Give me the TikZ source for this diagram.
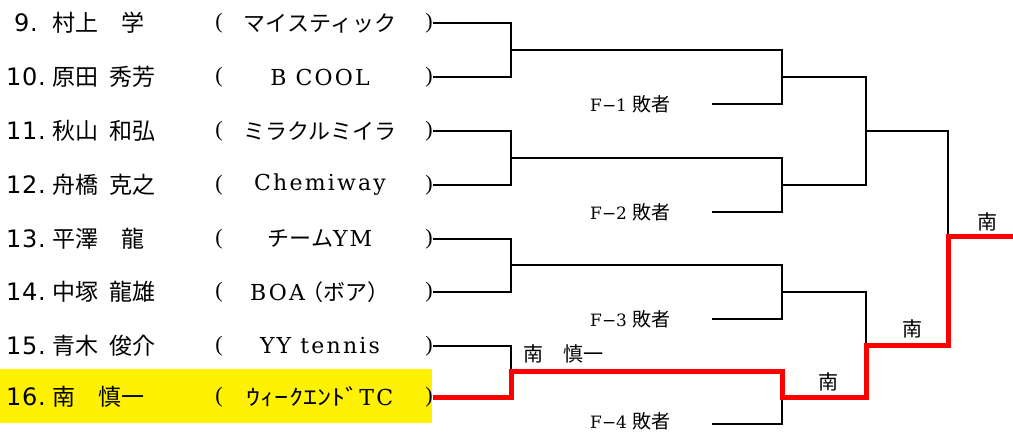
\documentclass[tikz,border=0pt]{standalone}
\usepackage{graphicx}
\usepackage{fontspec}
\setmainfont{Liberation Serif}
\newfontfamily\jp{Noto Sans CJK JP}
\newfontfamily\lat[LetterSpace=10]{DejaVu Serif}
\newfontfamily\flabfont{DejaVu Serif}
\newfontfamily\numf[LetterSpace=3]{DejaVu Sans}
\begin{document}
\begin{tikzpicture}[x=1pt,y=-1pt,
  numtxt/.style={inner sep=0pt,font=\numf\fontsize{24}{26}\selectfont},
  nametxt/.style={inner sep=0pt,anchor=west,font=\jp\fontsize{23}{26}\selectfont},
  teamtxt/.style={inner sep=0pt,font=\lat\fontsize{22}{26}\selectfont},
  paren/.style={inner sep=0pt,font=\fontsize{22}{26}\selectfont},
  flab/.style={inner sep=0pt,anchor=west,font=\flabfont\fontsize{17}{22}\selectfont},
  wlab/.style={inner sep=0pt,font=\jp\fontsize{20}{24}\selectfont},
  bline/.style={line width=1.8pt,black},
  rline/.style={line width=5pt,red,line join=miter}]
\useasboundingbox (0,0) rectangle (1013,433);
\fill[yellow] (0,369) rectangle (432,423);
\foreach \y/\n/\nm/\tm in {
  23/9/{村上　学}/{{\jp マイスティック}},
  77/10/{原田\hspace{0.5em}秀芳}/{B COOL},
  131/11/{秋山\hspace{0.5em}和弘}/{{\jp ミラクルミイラ}},
  185/12/{舟橋\hspace{0.5em}克之}/{Chemiway},
  239/13/{平澤　龍}/{{\jp チーム}YM},
  292/14/{中塚\hspace{0.5em}龍雄}/{BOA{\jp\hspace{-0.15em}（ボア）}},
  346/15/{青木\hspace{0.5em}俊介}/{YY tennis},
  397/16/{南　慎一}/{\scalebox{1.28}[1]{\jp ｳｨｰｸｴﾝﾄﾞ}TC}}{
  \node[numtxt] (n\n) at (26,\y) {\n.};
  \node[nametxt] (m\n) at (52,\y) {\nm};
  \node[paren] (o\n) at (219,\y) {(};
  \node[teamtxt] (t\n) at (320,\y) {\tm};
  \node[paren,anchor=east] (c\n) at (433,\y) {)};
}
% F labels
\node[flab] (F1) at (590,104) {F−1 {\jp\fontsize{19}{22}\selectfont 敗者}};
\node[flab] (F2) at (590,212) {F−2 {\jp\fontsize{19}{22}\selectfont 敗者}};
\node[flab] (F3) at (590,319) {F−3 {\jp\fontsize{19}{22}\selectfont 敗者}};
\node[flab] (F4) at (590,421) {F−4 {\jp\fontsize{19}{22}\selectfont 敗者}};
% junctions
\coordinate (q1) at (511,50);
\coordinate (q2) at (511,158);
\coordinate (q3) at (511,265);
\coordinate (q4) at (511,371);
\coordinate (f1) at (712,104);
\coordinate (f2) at (712,212);
\coordinate (f3) at (712,319);
\coordinate (f4) at (712,424);
\coordinate (s1) at (782,77);
\coordinate (s2) at (782,185);
\coordinate (s3) at (782,292);
\coordinate (s4) at (782,397);
\coordinate (u1) at (866,131);
\coordinate (u2) at (866,345);
\coordinate (w) at (948,237);
\coordinate (e) at (1013,237);
% black lines
\draw[bline] (c9.east) -| (q1) |- (c10.east);
\draw[bline] (c11.east) -| (q2) |- (c12.east);
\draw[bline] (c13.east) -| (q3) |- (c14.east);
\draw[bline] (c15.east) -| (q4);
\draw[bline] (q1) -| (s1) |- (f1);
\draw[bline] (q2) -| (s2) |- (f2);
\draw[bline] (q3) -| (s3) |- (f3);
\draw[bline] (s4) |- (f4);
\draw[bline] (s1) -| (u1) |- (s2);
\draw[bline] (s3) -| (u2);
\draw[bline] (u1) -| (w);
% red path
\draw[rline] (c16.east) -| (q4) -| (s4) -| (u2) -| (w) -- (e);
% winner labels
\node[wlab] (L1) at (563,354) {南　慎一};
\node[wlab] (L2) at (828,382) {南};
\node[wlab] (L3) at (912,329) {南};
\node[wlab] (L4) at (987,222) {南};
\end{tikzpicture}
\end{document}
